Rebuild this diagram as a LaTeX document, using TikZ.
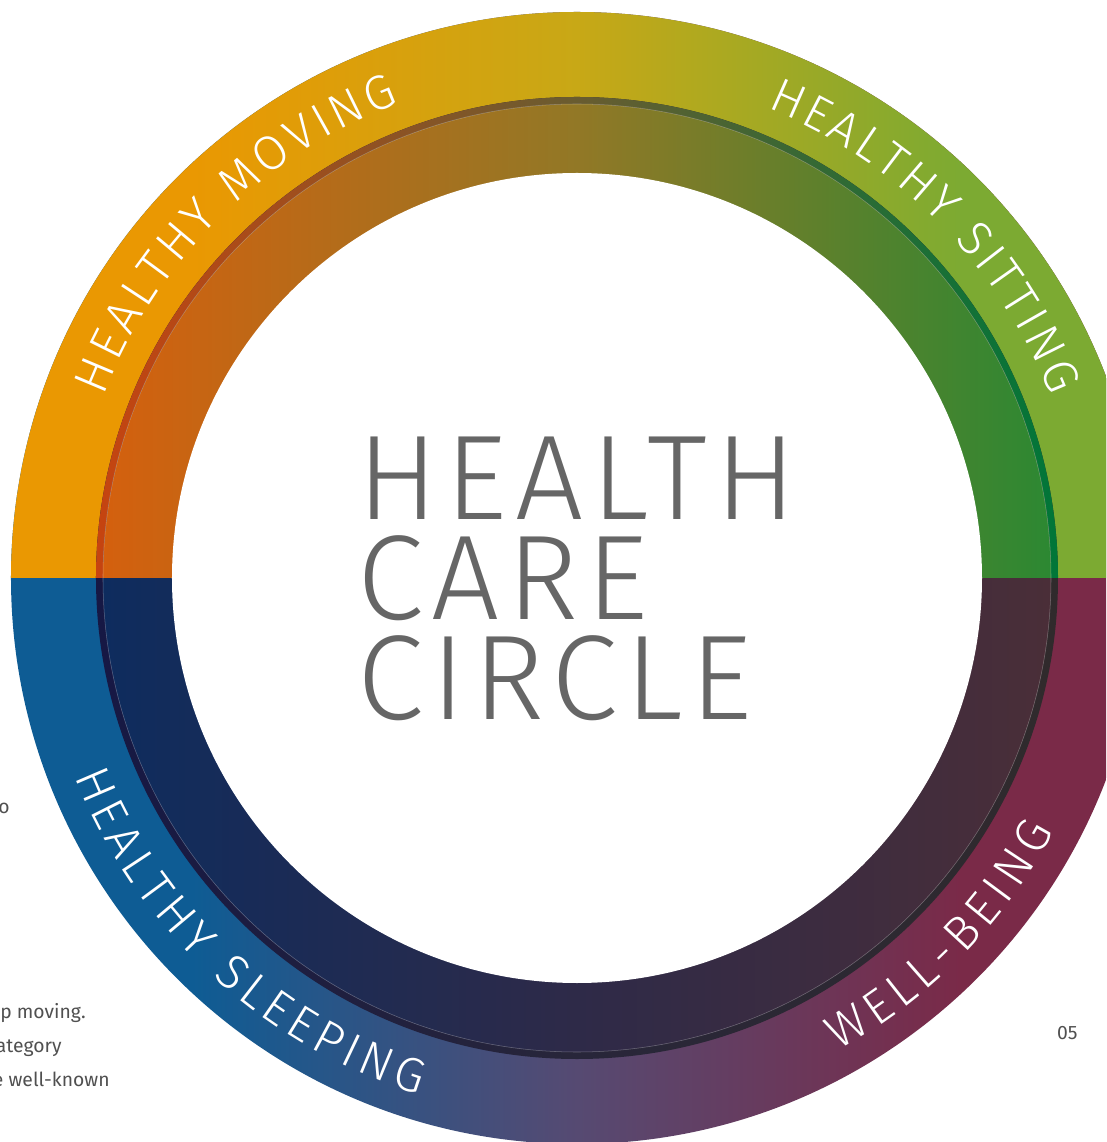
\documentclass[tikz,border=0pt]{standalone}
\usepackage{fontspec}
\setmainfont{Fira Sans}
\newfontfamily\dinfont{Fira Sans}[UprightFont={* Light}]
\newfontfamily\dinwide{Fira Sans}[UprightFont={* Light}, LetterSpace=6.5]
\usetikzlibrary{decorations.text}

\definecolor{titlegray}{RGB}{102,102,102}
\definecolor{notegray}{RGB}{80,80,80}
% outer band
\definecolor{moveorange}{RGB}{234,152,2}
\definecolor{movegold}{RGB}{200,168,22}
\definecolor{sitgreen}{RGB}{124,170,50}
\definecolor{sleepblue}{RGB}{14,92,148}
\definecolor{sleeppurple}{RGB}{86,74,114}
\definecolor{wellmaroon}{RGB}{122,42,72}
% thin line
\definecolor{lineorange}{RGB}{198,68,16}
\definecolor{lineolive}{RGB}{105,92,48}
\definecolor{linegreen}{RGB}{0,118,56}
\definecolor{linenavy}{RGB}{22,24,68}
\definecolor{linegray}{RGB}{40,38,58}
\definecolor{linebrown}{RGB}{48,42,44}
% inner band
\definecolor{innerorange}{RGB}{212,96,14}
\definecolor{innerolive}{RGB}{146,120,38}
\definecolor{innergreen}{RGB}{44,136,50}
\definecolor{innernavy}{RGB}{14,44,94}
\definecolor{innerplum}{RGB}{46,42,72}
\definecolor{innerbrown}{RGB}{74,46,56}

% flat ends, gradient in the middle
\newcommand{\bandshading}[4]{%
  \pgfdeclarehorizontalshading{#1}{100bp}{color(0bp)=(#2); color(33bp)=(#2);
    color(50bp)=(#3); color(67bp)=(#4); color(100bp)=(#4)}}
% plain left-middle-right
\newcommand{\fullshading}[4]{%
  \pgfdeclarehorizontalshading{#1}{100bp}{color(0bp)=(#2); color(25bp)=(#2);
    color(50bp)=(#3); color(75bp)=(#4); color(100bp)=(#4)}}
\bandshading{outertop}{moveorange}{movegold}{sitgreen}
\bandshading{outerbottom}{sleepblue}{sleeppurple}{wellmaroon}
\fullshading{linetop}{lineorange}{lineolive}{linegreen}
\fullshading{linebottom}{linenavy}{linegray}{linebrown}
\fullshading{innertop}{innerorange}{innerolive}{innergreen}
\fullshading{innerbottom}{innernavy}{innerplum}{innerbrown}

\begin{document}
\begin{tikzpicture}[x=0.02cm, y=0.02cm,
  title/.style={font=\dinwide\fontsize{68.6}{60}\selectfont, text=titlegray,
    inner sep=0pt, anchor=base west},
  note/.style={font=\fontsize{11}{14}\selectfont, text=notegray,
    inner sep=0pt, anchor=base east},
  ringlabel/.style={decorate, decoration={text along path, text align=fit to path,
    text color=white, text={|\dinfont\fontsize{27.6}{30}\selectfont|#1}}}]
\clip (-577,-564) rectangle (529,578);
\fill[white] (-577,-564) rectangle (529,578);

% outer band
\shade[shading=outerbottom] (0,0) circle[radius=566];
\shade[shading=outertop] (0:566) arc[start angle=0, end angle=180, radius=566] -- cycle;
% thin line
\shade[shading=linebottom] (0,0) circle[radius=481];
\shade[shading=linetop] (0:481) arc[start angle=0, end angle=180, radius=481] -- cycle;
% inner band
\shade[shading=innerbottom] (0,0) circle[radius=474];
\shade[shading=innertop] (0:474) arc[start angle=0, end angle=180, radius=474] -- cycle;
\draw[white, opacity=.3, line width=.3pt] (0,0) circle[radius=474];
\fill[white] (0,0) circle[radius=405];

% labels on the ring
\path[ringlabel={HEALTHY MOVING}] (159:507) arc[start angle=159, end angle=110.5, radius=507];
\path[ringlabel={HEALTHY SITTING}] (68:507) arc[start angle=68, end angle=21, radius=507];
\path[ringlabel={HEALTHY SLEEPING}] (201.5:540) arc[start angle=201.5, end angle=253, radius=540];
\path[ringlabel={WELL-BEING}] (299:540) arc[start angle=299, end angle=332, radius=540];

% title
\node[title] (health) at (-220,58) {HEALTH};
\node[title] (care) at (-220,-42) {CARE};
\node[title] (circ) at (-220,-142) {CIRCLE};

% page text
\node[note] (frag1) at (-567,-235) {o};
\node[note] (frag2) at (-491,-440) {p moving.};
\node[note] (frag3) at (-515,-474) {ategory};
\node[note] (frag4) at (-467,-508) {e well-known};
\node[note] (page) at (501,-461) {05};
\end{tikzpicture}
\end{document}
